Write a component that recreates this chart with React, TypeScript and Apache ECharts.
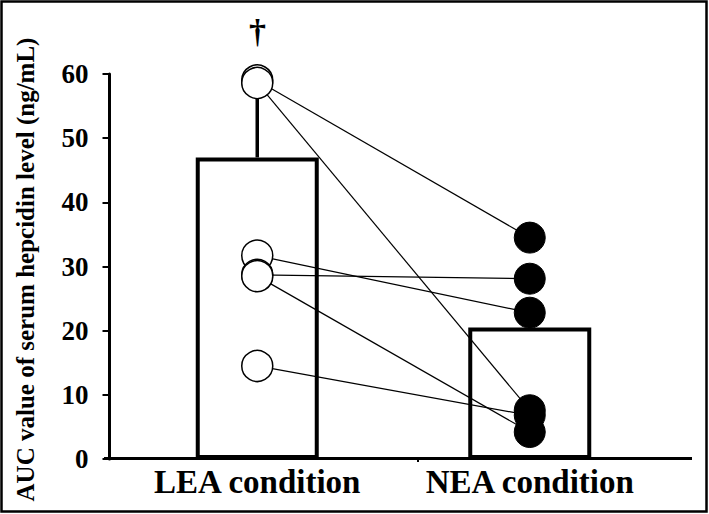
import React, { useEffect, useRef } from "react";
import * as echarts from "echarts";

const categories = ["LEA condition", "NEA condition"];
const barMeans = [47.0, 20.5];
const leaErrorTop = 58.6;
const leaValues = [59.0, 58.6, 31.7, 28.7, 28.5, 14.5];
const neaValues = [34.5, 7.6, 22.8, 28.1, 4.2, 6.8];
const yTicks = { min: 0, max: 60, interval: 10 };
const yAxisName = "AUC value of serum hepcidin level (ng/mL)";
const significanceMark = "†";

const SERIF = "'Liberation Serif', 'Times New Roman', serif";

export default function App() {
  const ref = useRef<HTMLDivElement>(null);
  useEffect(() => {
    if (!ref.current) return;
    const chart = echarts.init(ref.current, null, { renderer: "svg" });
    const pairSeries = leaValues.map((v, i) => ({
      type: "line",
      data: [v, neaValues[i]],
      symbol: "none",
      lineStyle: { color: "#000", width: 1.2 },
      z: 4,
      silent: true,
    }));
    chart.setOption({
      animation: false,
      backgroundColor: "#fff",
      grid: { left: 121, right: 43, top: 74, bottom: 55, containLabel: false },
      xAxis: {
        type: "category",
        data: categories,
        axisLine: { show: false },
        axisTick: { show: false },
        axisLabel: {
          interval: 0,
          color: "#000",
          fontFamily: SERIF,
          fontWeight: "bold",
          fontSize: 33,
          margin: 6,
        },
      },
      yAxis: {
        type: "value",
        min: yTicks.min,
        max: yTicks.max,
        interval: yTicks.interval,
        offset: 11.5,
        name: yAxisName,
        nameLocation: "middle",
        nameGap: 72,
        nameTextStyle: {
          color: "#000",
          fontFamily: SERIF,
          fontWeight: "bold",
          fontSize: 25,
          padding: [0, 6, 0, 0],
        },
        axisLine: { show: true, lineStyle: { color: "#000", width: 3 } },
        axisTick: { show: true, length: 7, lineStyle: { color: "#000", width: 2 } },
        splitLine: { show: false },
        axisLabel: {
          color: "#000",
          fontFamily: SERIF,
          fontWeight: "bold",
          fontSize: 27,
          margin: 21,
        },
      },
      graphic: [
        {
          type: "rect",
          shape: { x: 1.5, y: 1.5, width: 705, height: 510 },
          style: { fill: "none", stroke: "#000", lineWidth: 2.5 },
          z: 100,
        },
        {
          type: "line",
          shape: { x1: 104, y1: 458.5, x2: 692, y2: 458.5 },
          style: { stroke: "#000", lineWidth: 3 },
          z: 100,
        },
        {
          type: "line",
          shape: { x1: 418, y1: 458, x2: 418, y2: 462 },
          style: { stroke: "#000", lineWidth: 2 },
          z: 100,
        },
        {
          type: "text",
          x: 257.5,
          y: 31,
          style: {
            text: significanceMark,
            fill: "#000",
            font: `bold 34px ${SERIF}`,
            textAlign: "center",
            textVerticalAlign: "middle",
          },
          z: 100,
        },
      ],
      series: [
        {
          type: "bar",
          data: barMeans,
          barWidth: 123,
          itemStyle: { color: "#fff", borderColor: "#000", borderWidth: 4 },
          z: 2,
          silent: true,
        },
        {
          type: "custom",
          data: [[0, barMeans[0], leaErrorTop]],
          renderItem: (params: any, api: any) => {
            const p1 = api.coord([api.value(0), api.value(1)]);
            const p2 = api.coord([api.value(0), api.value(2)]);
            return {
              type: "line",
              shape: { x1: p1[0], y1: p1[1], x2: p2[0], y2: p2[1] },
              style: { stroke: "#000", lineWidth: 3.5 },
            };
          },
          z: 3,
          silent: true,
        },
        ...pairSeries,
        {
          type: "scatter",
          data: leaValues.map((v) => [0, v]),
          symbol: "circle",
          symbolSize: 31,
          itemStyle: { color: "#fff", borderColor: "#000", borderWidth: 1.5, opacity: 1 },
          z: 6,
          silent: true,
        },
        {
          type: "scatter",
          data: neaValues.map((v) => [1, v]),
          symbol: "circle",
          symbolSize: 31,
          itemStyle: { color: "#000", borderColor: "#000", borderWidth: 1, opacity: 1 },
          z: 6,
          silent: true,
        },
      ],
    });
    return () => chart.dispose();
  }, []);
  return (
    <div
      ref={ref}
      style={{ position: "absolute", left: 0, top: 0, width: 709, height: 514 }}
    />
  );
}
